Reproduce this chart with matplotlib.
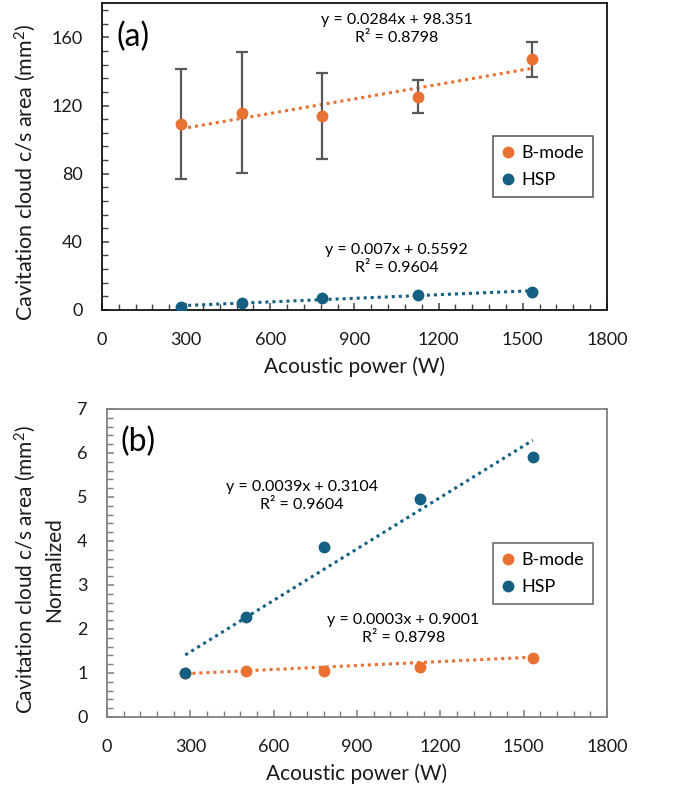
import numpy as np
import matplotlib
matplotlib.use("Agg")
import matplotlib.pyplot as plt
from matplotlib.ticker import MultipleLocator

plt.rcParams['font.family'] = ['Lato', 'DejaVu Sans']
plt.rcParams['mathtext.fontset'] = 'custom'
plt.rcParams['mathtext.rm'] = 'Lato'
plt.rcParams['mathtext.it'] = 'Lato:italic'

# ---------------- data ----------------
power = [282, 500, 783, 1127, 1533]
bmode_area = [109.0, 115.8, 114.0, 125.2, 147.1]
bmode_err = [32.3, 35.6, 25.3, 9.8, 10.3]
hsp_area = [1.8, 4.1, 6.9, 8.9, 10.6]

bmode_norm = [1.0, 1.05, 1.04, 1.14, 1.35]
hsp_norm = [1.0, 2.27, 3.86, 4.95, 5.92]

fit_a_bmode = (0.0284, 98.351)
fit_a_hsp = (0.007, 0.5592)
fit_b_hsp = (0.0039, 0.3104)
fit_b_bmode = (0.0003, 0.9001)

eq_a_bmode = "y = 0.0284x + 98.351\nR² = 0.8798"
eq_a_hsp = "y = 0.007x + 0.5592\nR² = 0.9604"
eq_b_hsp = "y = 0.0039x + 0.3104\nR² = 0.9604"
eq_b_bmode = "y = 0.0003x + 0.9001\nR² = 0.8798"

series_labels = ["B-mode", "HSP"]
xlabel = "Acoustic power (W)"
ylabel_a = "Cavitation cloud c/s area (mm$^2$)"
ylabel_b = "Cavitation cloud c/s area (mm$^2$)\nNormalized"

ORANGE = "#E97132"
BLUE = "#156082"
ERR = "#595959"

fig = plt.figure(figsize=(6.85, 7.94), dpi=100)
ax1 = fig.add_axes([0.1489, 0.6096, 0.7372, 0.3862])
ax2 = fig.add_axes([0.1562, 0.0970, 0.7299, 0.3879])

xs = np.array(power, dtype=float)
xline = np.array([xs.min(), xs.max()])
dot = (0, (1, 1.3))


def style_axes(ax, spine_color, tick_color, ylim, ymajor, yminor):
    ax.set_xlim(0, 1800)
    ax.set_ylim(*ylim)
    ax.xaxis.set_major_locator(MultipleLocator(300))
    ax.xaxis.set_minor_locator(MultipleLocator(60))
    ax.yaxis.set_major_locator(MultipleLocator(ymajor))
    ax.yaxis.set_minor_locator(MultipleLocator(yminor))
    for s in ax.spines.values():
        s.set_color(spine_color)
        s.set_linewidth(1.3)
    ax.tick_params(which='both', direction='in', color=tick_color, labelsize=13,
                   labelcolor='#1a1a1a')
    ax.tick_params(axis='x', which='both', pad=16)
    ax.tick_params(axis='y', which='both', pad=14)
    ax.tick_params(which='major', length=5, width=1.1)
    ax.tick_params(which='minor', length=4, width=1.0)
    ax.set_xlabel(xlabel, fontsize=15, color='#1a1a1a', labelpad=6)


# ---------------- panel (a) ----------------
style_axes(ax1, '#111111', '#404040', (0, 180), 40, 8)
ax1.plot(xline, fit_a_bmode[0] * xline + fit_a_bmode[1], linestyle=dot, color=ORANGE,
         lw=2.2, zorder=2)
ax1.plot(xline, fit_a_hsp[0] * xline + fit_a_hsp[1], linestyle=dot, color=BLUE,
         lw=2.2, zorder=2)
ax1.errorbar(power, bmode_area, yerr=bmode_err, fmt='none', ecolor=ERR, elinewidth=1.6,
             capsize=4, capthick=1.6, zorder=3)
ax1.plot(power, bmode_area, 'o', color=ORANGE, ms=7.5, label=series_labels[0], zorder=4)
ax1.plot(power, hsp_area, 'o', color=BLUE, ms=7.5, label=series_labels[1], zorder=4)
ax1.text(0.028, 0.89, "(a)", transform=ax1.transAxes, fontsize=23, va='center', ha='left')
ax1.text(1051, 165, eq_a_bmode, fontsize=11.5, ha='center', va='center', linespacing=1.4)
ax1.text(1051, 30, eq_a_hsp, fontsize=11.5, ha='center', va='center', linespacing=1.4)
ax1.set_ylabel(ylabel_a, fontsize=15.5, color='#1a1a1a')
ax1.yaxis.set_label_coords(-0.127, 0.45)
leg1 = ax1.legend(loc='upper right', bbox_to_anchor=(0.972, 0.567), fontsize=13,
                  frameon=True, fancybox=False, edgecolor='#262626', handlelength=0.6,
                  handletextpad=0.45, labelspacing=0.6, borderpad=0.5, borderaxespad=0)
leg1.get_frame().set_linewidth(1.1)

# ---------------- panel (b) ----------------
style_axes(ax2, '#7f7f7f', '#7f7f7f', (0, 7), 1, 0.2)
ax2.plot(xline, fit_b_hsp[0] * xline + fit_b_hsp[1], linestyle=dot, color=BLUE,
         lw=2.2, zorder=2)
ax2.plot(xline, fit_b_bmode[0] * xline + fit_b_bmode[1], linestyle=dot, color=ORANGE,
         lw=2.2, zorder=2)
ax2.plot(power, bmode_norm, 'o', color=ORANGE, ms=7.5, label=series_labels[0], zorder=4)
ax2.plot(power, hsp_norm, 'o', color=BLUE, ms=7.5, label=series_labels[1], zorder=4)
ax2.text(0.028, 0.893, "(b)", transform=ax2.transAxes, fontsize=23, va='center', ha='left')
ax2.text(703, 5.02, eq_b_hsp, fontsize=11.5, ha='center', va='center', linespacing=1.4)
ax2.text(1067, 2.0, eq_b_bmode, fontsize=11.5, ha='center', va='center', linespacing=1.4)
ax2.set_ylabel(ylabel_b, fontsize=15, color='#1a1a1a', linespacing=1.35)
ax2.yaxis.set_label_coords(-0.086, 0.48)
leg2 = ax2.legend(loc='upper right', bbox_to_anchor=(0.972, 0.565), fontsize=13,
                  frameon=True, fancybox=False, edgecolor='#595959', handlelength=0.6,
                  handletextpad=0.45, labelspacing=0.6, borderpad=0.5, borderaxespad=0)
leg2.get_frame().set_linewidth(1.3)

fig.savefig("out.png", dpi=100)
